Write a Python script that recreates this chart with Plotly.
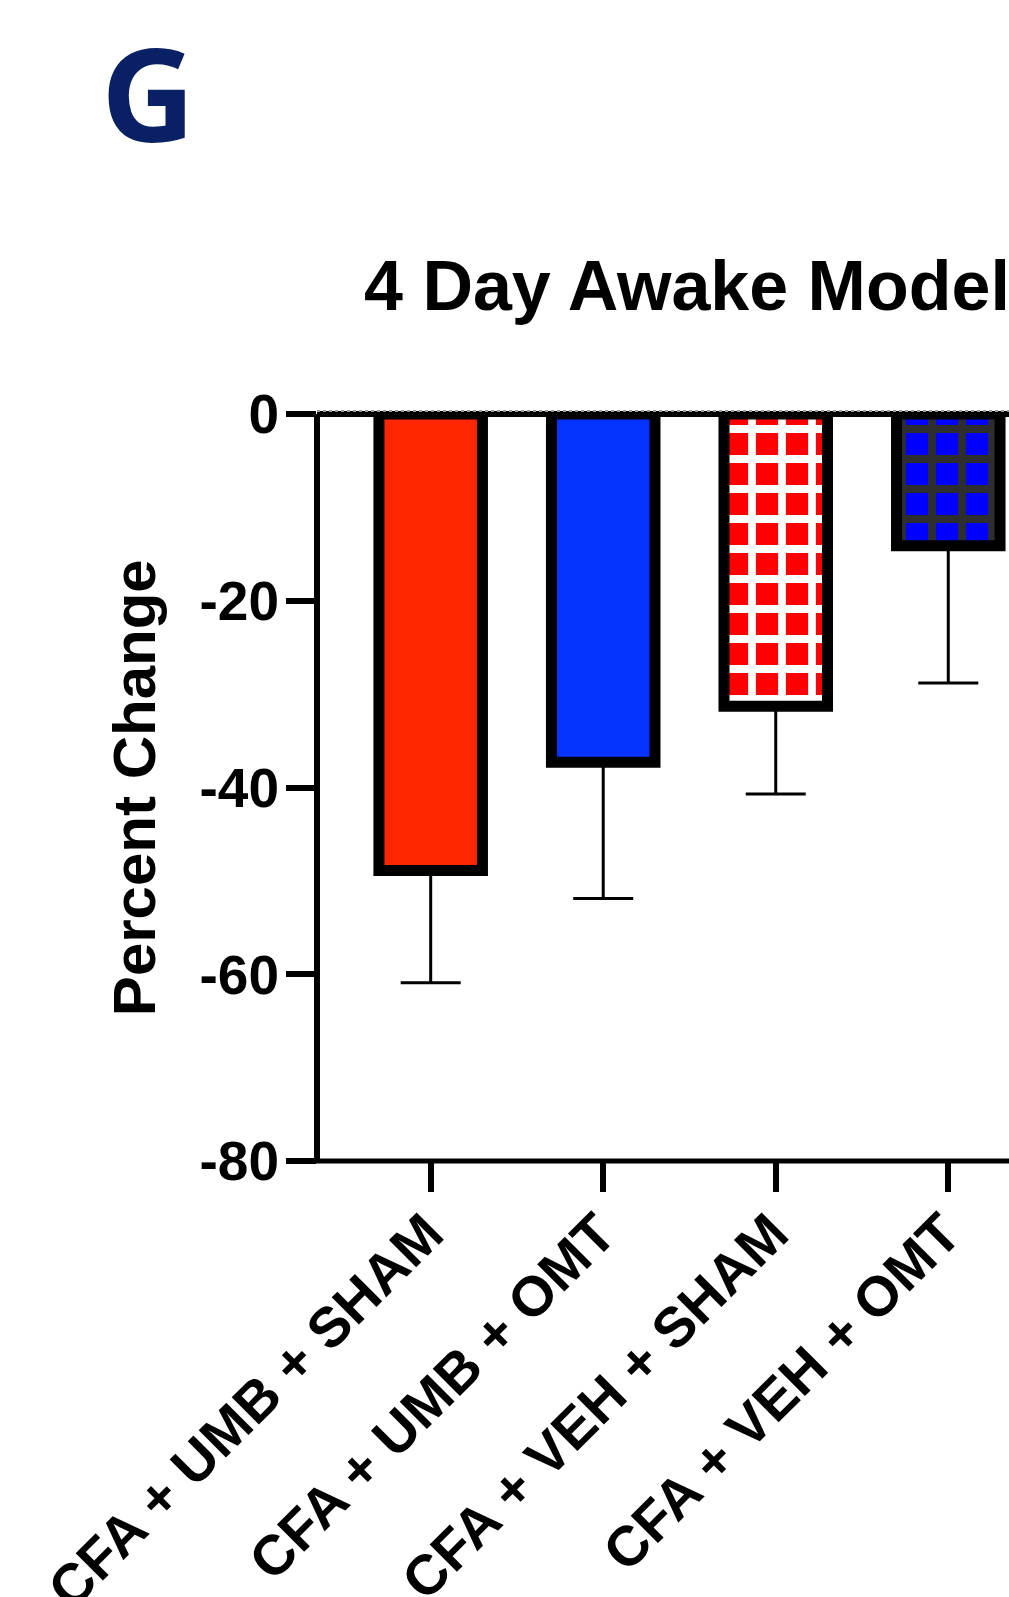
import plotly.graph_objects as go

# ---- data ----
categories = ["CFA + UMB + SHAM", "CFA + UMB + OMT", "CFA + VEH + SHAM", "CFA + VEH + OMT"]
means = [-48.9, -37.3, -31.3, -14.1]
errors = [12.0, 14.6, 9.4, 14.7]
y_ticks = [0, -20, -40, -60, -80]
y_tick_text = ["0", "-20", "-40", "-60", "-80"]
title_text = "4 Day Awake Model"
y_title = "Percent Change"
panel_letter = "G"

bar_colors = ["#FF2600", "#0433FF", "#FF0000", "#0000FF"]
pattern_shapes = ["", "", "+", "+"]
pattern_fg = ["#FF2600", "#0433FF", "#FFFFFF", "#2E2E2E"]

W, H = 1009, 1597
ML, MR, MT, MB = 316.7, 0, 414, 435.5
plot_w = W - ML - MR
plot_h = H - MT - MB

def px_x(p):
    return (p - ML) / plot_w

def px_y(p):
    return (H - MB - p) / plot_h

FONT = "Liberation Sans, Arial, Helvetica, sans-serif"

fig = go.Figure()
for i, cat in enumerate(categories):
    fig.add_trace(go.Bar(
        x=[cat],
        y=[means[i]],
        width=0.60,
        marker=dict(
            color=bar_colors[i],
            line=dict(color="black", width=11),
            pattern=dict(shape=pattern_shapes[i], fgcolor=pattern_fg[i], bgcolor=bar_colors[i],
                         fgopacity=1, fillmode="overlay", size=30, solidity=0.45),
        ),
        error_y=dict(type="data", symmetric=False, array=[0],
                     arrayminus=[errors[i]], color="black", thickness=3, width=30),
        showlegend=False,
    ))

fig.update_layout(
    width=W, height=H,
    barmode="overlay",
    margin=dict(l=ML, r=MR, t=MT, b=MB, pad=0, autoexpand=False),
    paper_bgcolor="white", plot_bgcolor="white",
    xaxis=dict(
        type="category", categoryorder="array", categoryarray=categories,
        range=[-0.659, 3.352], automargin=False,
        showgrid=False, zeroline=False, showline=False,
        ticks="outside", ticklen=30, tickwidth=6, tickcolor="black",
        tickangle=-45, ticklabelstandoff=-14, ticklabelshift=-4,
        tickfont=dict(family=FONT, size=56, color="black", weight="bold"),
    ),
    yaxis=dict(
        range=[-80, 0], tickvals=y_ticks, ticktext=y_tick_text, automargin=False,
        showgrid=False, zeroline=False, showline=False,
        ticks="outside", ticklen=30, tickwidth=6, tickcolor="black",
        ticklabelstandoff=-4,
        tickfont=dict(family=FONT, size=55, color="black", weight="bold"),
    ),
    shapes=[
        # y axis line
        dict(type="line", xref="paper", yref="paper", x0=0, x1=0, y0=0, y1=1,
             line=dict(color="black", width=6), layer="above"),
        # x axis line
        dict(type="line", xref="paper", yref="paper", x0=px_x(ML - 3), x1=1, y0=0, y1=0,
             line=dict(color="black", width=5), layer="above"),
        # zero line
        dict(type="line", xref="paper", yref="paper", x0=0, x1=1, y0=1, y1=1,
             line=dict(color="black", width=6), layer="above"),
        # dotted grey line on top of zero line
        dict(type="line", xref="paper", yref="paper", ysizemode="pixel", yanchor=1,
             x0=0, x1=1, y0=3, y1=3,
             line=dict(color="#9a9a9a", width=2, dash="dot"), layer="above"),
    ],
    annotations=[
        dict(text=panel_letter, xref="paper", yref="paper", x=px_x(148), y=px_y(91),
             xanchor="center", yanchor="middle", showarrow=False,
             font=dict(family="Open Sans, sans-serif", size=130, color="#0A2064", weight="bold")),
        dict(text=title_text, xref="paper", yref="paper", x=px_x(362), y=px_y(285.5),
             xanchor="left", yanchor="middle", showarrow=False,
             font=dict(family=FONT, size=70, color="black", weight="bold")),
        dict(text=y_title, xref="paper", yref="paper", x=px_x(133.5), y=px_y(787.5),
             xanchor="center", yanchor="middle", textangle=-90, showarrow=False,
             font=dict(family=FONT, size=60, color="black", weight="bold")),
    ],
)

fig.write_html("out.html")
